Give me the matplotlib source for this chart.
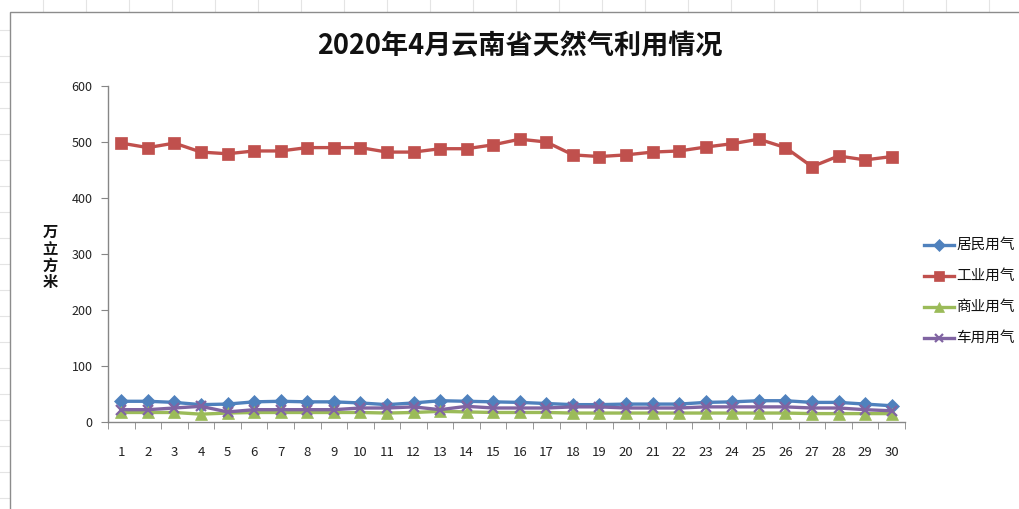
import matplotlib
matplotlib.use("Agg")
import matplotlib.pyplot as plt
from matplotlib.lines import Line2D
from matplotlib.patches import Rectangle

plt.rcParams['font.family'] = ['Noto Sans CJK SC', 'DejaVu Sans']

days = list(range(1, 31))
series_names = ["居民用气", "工业用气", "商业用气", "车用用气"]
residential = [37, 37, 35, 31, 32, 36, 37, 36, 36, 34, 31, 34, 38, 37, 36, 35, 33, 31, 31, 32,
               32, 32, 35, 36, 38, 38, 35, 35, 32, 29]
industrial = [498, 490, 498, 482, 479, 484, 484, 490, 490, 490, 482, 482, 488, 488, 495, 505, 500, 477,
              474, 477, 482, 484, 491, 497, 505, 490, 456, 475, 468, 474]
commercial = [17, 17, 17, 14, 16, 17, 17, 17, 17, 17, 16, 17, 19, 18, 17, 17, 17, 16, 16, 16,
              16, 16, 16, 16, 16, 16, 15, 15, 15, 15]
vehicle = [22, 22, 25, 28, 18, 22, 22, 22, 22, 25, 25, 27, 22, 28, 25, 25, 25, 27, 27, 25,
           25, 25, 27, 27, 27, 27, 25, 25, 22, 20]
y_ticks = [0, 100, 200, 300, 400, 500, 600]
title = "2020年4月云南省天然气利用情况"
y_label = "万立方米"

colors = ["#4F81BD", "#C0504D", "#9BBB59", "#8064A2"]
markers = ["D", "s", "^", "x"]
msizes = [7, 8.5, 8, 7]

fig = plt.figure(figsize=(10.2, 5.09), dpi=100)

# spreadsheet-like frame
grid_c = "#E4E4E4"
for xx in range(43, 1020, 43):
    fig.add_artist(Line2D([xx / 1020, xx / 1020], [1 - 12 / 509, 1], color=grid_c, lw=0.8, zorder=-10))
for yy in range(30, 509, 26):
    fig.add_artist(Line2D([0, 10 / 1020], [1 - yy / 509, 1 - yy / 509], color=grid_c, lw=0.8, zorder=-10))
fig.add_artist(Rectangle((10 / 1020, -0.01), 1.0, 1 - 12 / 509 + 0.01, transform=fig.transFigure,
                         facecolor="white", edgecolor="#8C8C8C", lw=1.0, zorder=-5))

ax = fig.add_axes([108 / 1020, 87 / 509, 797 / 1020, 336 / 509])
ax.set_zorder(5)
ax.patch.set_alpha(0)
data = [residential, industrial, commercial, vehicle]
handles = []
for vals, c, m, ms, name in zip(data, colors, markers, msizes, series_names):
    h, = ax.plot(days, vals, color=c, marker=m, markersize=ms, lw=2.4,
                 markeredgewidth=1.6 if m == "x" else 0.5, markeredgecolor=c, label=name)
    handles.append(h)

ax.set_xlim(0.5, 30.5)
ax.set_ylim(0, 600)
ax.set_yticks(y_ticks)
ax.set_yticklabels([str(v) for v in y_ticks], fontsize=9, color="#222222")
ax.set_xticks(days)
ax.set_xticklabels([str(d) for d in days], fontsize=9.5, color="#222222")
ax.set_xticks([d + 0.5 for d in range(0, 31)], minor=True)
ax.tick_params(axis='x', which='major', length=0, pad=17)
ax.tick_params(axis='x', which='minor', length=5, color="#868686", direction='out')
ax.tick_params(axis='y', length=5, color="#868686", direction='out', pad=6)
for s in ["top", "right"]:
    ax.spines[s].set_visible(False)
for s in ["left", "bottom"]:
    ax.spines[s].set_color("#868686")
    ax.spines[s].set_linewidth(1.0)

fig.text(520 / 1020, 1 - 46 / 509, title, ha="center", va="center", fontsize=19.5,
         fontweight="bold", color="#111111", zorder=6)
fig.text(50 / 1020, 1 - 257 / 509, "\n".join(y_label), ha="center", va="center", fontsize=11,
         fontweight="bold", linespacing=1.05, color="#111111", zorder=6)

leg_y = [245, 276, 307, 338]
for h, yy, name in zip(handles, leg_y, series_names):
    yf = 1 - yy / 509
    fig.add_artist(Line2D([924 / 1020, 954 / 1020], [yf, yf], color=h.get_color(), lw=2.4, zorder=6))
    fig.add_artist(Line2D([939 / 1020], [yf], color=h.get_color(), marker=h.get_marker(),
                          markersize=h.get_markersize() * 0.85,
                          markeredgewidth=h.get_markeredgewidth(), markeredgecolor=h.get_color(),
                          zorder=6))
    fig.text(956 / 1020, yf, name, ha="left", va="center", fontsize=10.5, color="#111111", zorder=6)

fig.savefig("out.png", dpi=100)
